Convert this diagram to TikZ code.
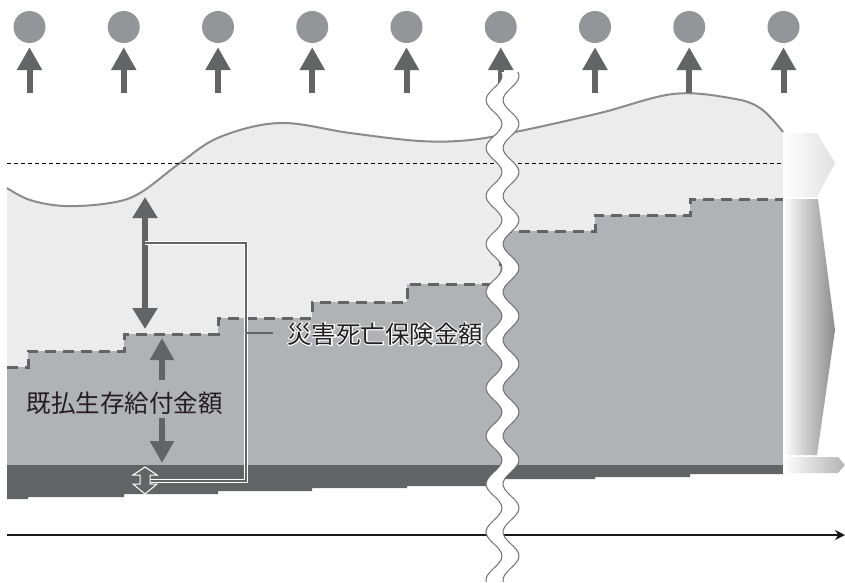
\documentclass[tikz,border=0pt]{standalone}
\usepackage{fontspec}
\newfontfamily\jp{Noto Sans CJK JP}
\newfontfamily\jphalo[FakeBold=8]{Noto Sans CJK JP}
\usetikzlibrary{arrows.meta}
\definecolor{lightg}{HTML}{ECECEC}
\definecolor{midg}{HTML}{B1B2B5}
\definecolor{darkg}{HTML}{636466}
\definecolor{circg}{HTML}{939598}
\definecolor{curveg}{HTML}{8A8B8D}
\definecolor{txt}{HTML}{231F20}
\definecolor{wavec}{HTML}{6D6E70}
\begin{document}
\begin{tikzpicture}[x=1pt,y=-1pt,
  circ/.style={circle, fill=circg, minimum size=32pt, inner sep=0pt},
  uparr/.style={draw=darkg, line width=6pt, -{Triangle[width=24pt,length=23pt]}},
  dblarr/.style={draw=darkg, line width=5.5pt, {Triangle[width=24pt,length=21pt]}-{Triangle[width=24pt,length=21pt]}},
  onearr/.style={draw=darkg, line width=5.5pt, -{Triangle[width=23pt,length=22pt]}},
  leaderw/.style={draw=white, line width=4.2pt},
  leaderd/.style={draw=darkg, line width=1.8pt},
  jtext/.style={font=\jp\fontsize{24.5}{28}\selectfont, text=txt, inner sep=0pt},
  halotext/.style={font=\jphalo\fontsize{24.5}{28}\selectfont, text=white, inner sep=0pt},
  wave/.style={draw=wavec, line width=1pt},
  stepline/.style={draw=darkg, line width=3pt, dash pattern=on 11pt off 7pt},
  refline/.style={draw=black, line width=1pt, dash pattern=on 4pt off 3pt}
]
\useasboundingbox (0,0) rectangle (845,582);

% light area under the top curve
\fill[lightg] (7,465) -- plot[smooth, tension=0.6] coordinates {(7,188) (30,200) (65,206) (110,203) (140,193) (180,163) (220,137) (280,123) (350,133) (420,141) (470,140) (520,131) (600,113) (673,94) (730,98) (760,108) (783,132)} -- (783,465) -- cycle;
\draw[draw=curveg, line width=2pt] plot[smooth, tension=0.6] coordinates {(7,188) (30,200) (65,206) (110,203) (140,193) (180,163) (220,137) (280,123) (350,133) (420,141) (470,140) (520,131) (600,113) (673,94) (730,98) (760,108) (783,132)};

% reference dashed line
\coordinate (r1) at (7,163);
\coordinate (r2) at (783,163);
\draw[refline] (r1) -- (r2);

% mid gray step region
\fill[midg] (7,465) -- (7,367) -- (28,367) -- (28,351) -- (124,351) -- (124,334) -- (218,334) -- (218,318) -- (312,318) -- (312,302) -- (407,302) -- (407,284) -- (500,284) -- (500,231) -- (595,231) -- (595,215) -- (690,215) -- (690,199) -- (783,199) -- (783,465) -- cycle;
% dark band
\fill[darkg] (7,465) -- (783,465) -- (783,474) -- (690,474) -- (690,477) -- (595,477) -- (595,479) -- (500,479) -- (500,486) -- (407,486) -- (407,488) -- (312,488) -- (312,491) -- (218,491) -- (218,494) -- (124,494) -- (124,497) -- (28,497) -- (28,499) -- (7,499) -- cycle;
% dashed step line
\draw[stepline] (7,367) -- (28,367) -- (28,351) -- (124,351) -- (124,334) -- (218,334) -- (218,318) -- (312,318) -- (312,302) -- (407,302) -- (407,284) -- (500,284) -- (500,231) -- (595,231) -- (595,215) -- (690,215) -- (690,199) -- (783,199);

% circles and up arrows
\foreach \i in {0,...,8} {
  \pgfmathsetmacro\xx{29.5+94.25*\i}
  \node[circ] (c\i) at (\xx,27) {};
  \coordinate (b\i) at (\xx,93);
  \draw[uparr] (b\i) -- ([yshift=-4pt]c\i.south);
}

% right side arrows (gradient)
\shade[left color=white, right color=lightg!90!gray] (783,133) -- (817,133) -- (835,163) -- (817,197) -- (783,197) -- cycle;
\shade[left color=white, right color=black!45] (783,199) -- (818,199) -- (835,330) -- (817,455) -- (783,455) -- cycle;
\shade[left color=white, right color=black!30] (783,457) -- (838,457) -- (845,465) -- (838,473) -- (783,473) -- cycle;

% big double arrow (death benefit)
\coordinate (dA) at (145,197);
\coordinate (dB) at (145,329);
\draw[dblarr] (dA) -- (dB);

% survival benefit label and its arrows
\node[jtext] (lbl1) at (124.5,403) {既払生存給付金額};
\coordinate (s1) at (162,380);
\coordinate (s1t) at (162,338);
\coordinate (s2) at (162,418);
\coordinate (s2t) at (162,463);
\draw[onearr] (s1) -- (s1t);
\draw[onearr] (s2) -- (s2t);

% leader (white-bordered)
\coordinate (lA) at (145,243);
\coordinate (lB) at (246,243);
\coordinate (lC) at (246,481);
\coordinate (lD) at (150,481);
\draw[leaderw] (lA) -- (lB) -- (lC) -- (lD);
\draw[leaderd] (lA) -- (lB) -- (lC) -- (lD);

% small hollow double arrow
\draw[draw=white, fill=darkg, line width=1pt] (145,467) -- (157,475) -- (150,475) -- (150,484) -- (157,484) -- (145,494) -- (133,484) -- (140,484) -- (140,475) -- (133,475) -- cycle;

% death benefit label with halo
\coordinate (lp) at (287,334);
\node[halotext, anchor=west] (halo) at (lp) {災害死亡保険金額};
\node[jtext, anchor=west] (lbl2) at (lp) {災害死亡保険金額};
\coordinate (lE) at (247,333);
\draw[draw=darkg, line width=1.5pt] (lE) -- ([xshift=-14pt]lbl2.west |- lE);

% time axis
\coordinate (ax1) at (7,535);
\coordinate (ax2) at (845,535);
\draw[draw=black!90, line width=1.3pt, -{Stealth[length=10pt,width=10pt]}] (ax1) -- (ax2);

% wavy break
\fill[white] plot[domain=72:582, samples=160] ({494-8*cos(7.5*(\x-100))},\x) -- plot[domain=582:72, samples=160] ({511-8*cos(7.5*(\x-100))},\x) -- cycle;
\draw[wave] plot[domain=72:582, samples=160, smooth] ({494-8*cos(7.5*(\x-100))},\x);
\draw[wave] plot[domain=72:582, samples=160, smooth] ({511-8*cos(7.5*(\x-100))},\x);
\end{tikzpicture}
\end{document}
